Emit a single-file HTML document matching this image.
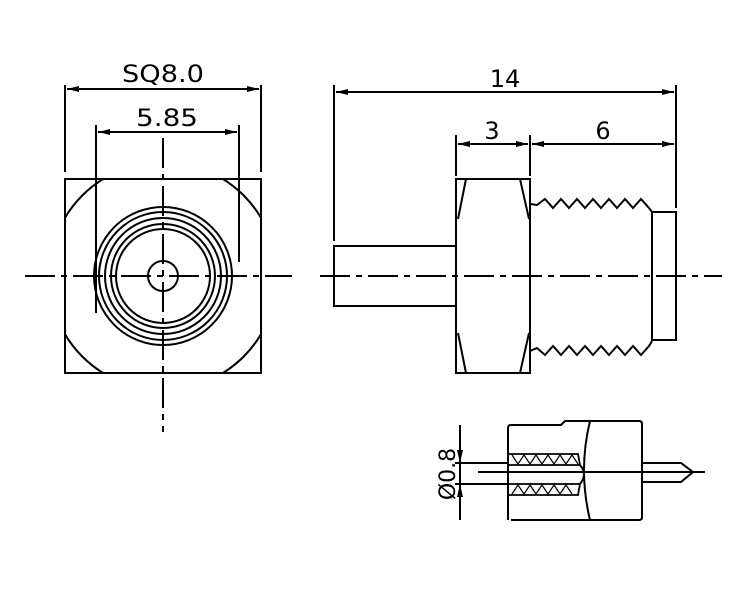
<!DOCTYPE html>
<html><head><style>html,body{margin:0;padding:0;background:#fff}svg{display:block}</style></head><body>
<svg width="746" height="598" viewBox="0 0 746 598" xmlns="http://www.w3.org/2000/svg">
<defs>
<marker id="a" viewBox="0 0 12 6" refX="12" refY="3" markerWidth="12" markerHeight="6" orient="auto-start-reverse" markerUnits="userSpaceOnUse"><path d="M0,0L12,3L0,6z" fill="#000"/></marker>
<clipPath id="sq"><rect x="65" y="179" width="196" height="194"/></clipPath>
</defs>
<g stroke="#000" stroke-width="2" fill="none">
<rect x="65" y="179" width="196" height="194"/>
<circle cx="163" cy="276" r="114" clip-path="url(#sq)"/>
<circle cx="163" cy="276" r="69"/>
<circle cx="163" cy="276" r="64"/>
<circle cx="163" cy="276" r="58"/>
<circle cx="163" cy="276" r="52"/>
<circle cx="163" cy="276" r="47"/>
<circle cx="163" cy="276" r="15"/>
<line x1="96" y1="125" x2="96" y2="313"/>
<line x1="239" y1="125" x2="239" y2="262"/>
<line x1="65" y1="85" x2="65" y2="172"/>
<line x1="261" y1="85" x2="261" y2="172"/>
<line x1="67" y1="89" x2="259" y2="89" marker-start="url(#a)" marker-end="url(#a)"/>
<line x1="98" y1="132" x2="237" y2="132" marker-start="url(#a)" marker-end="url(#a)"/>
<line x1="25" y1="276" x2="292" y2="276" stroke-dasharray="30,6,6,6"/>
<line x1="163" y1="138" x2="163" y2="432" stroke-dasharray="30,6,6,6"/>
<rect x="334" y="246" width="122" height="60"/>
<rect x="456" y="179" width="74" height="194"/>
<path d="M466,179L458,219M458,333L466,373M520,179L529,219M529,333L520,373"/>
<path d="M530,204L537,205 545,199 553,208 561,199 569,208 577,199 585,208 593,199 601,208 609,199 617,208 625,199 633,208 641,199 649,208 652,212"/>
<path d="M530,351L537,348 545,355 553,346 561,355 569,346 577,355 585,346 593,355 601,346 609,355 617,346 625,355 633,346 641,355 649,346 652,341"/>
<rect x="652" y="212" width="24" height="128"/>
<line x1="334" y1="85" x2="334" y2="241"/>
<line x1="676" y1="85" x2="676" y2="208"/>
<line x1="336" y1="92" x2="674" y2="92" marker-start="url(#a)" marker-end="url(#a)"/>
<line x1="456" y1="135" x2="456" y2="176"/>
<line x1="530" y1="135" x2="530" y2="176"/>
<line x1="458" y1="144" x2="528" y2="144" marker-start="url(#a)" marker-end="url(#a)"/>
<line x1="532" y1="144" x2="674" y2="144" marker-start="url(#a)" marker-end="url(#a)"/>
<line x1="320" y1="276" x2="722" y2="276" stroke-dasharray="30,6,6,6"/>
<path d="M508,520L508,428Q508,425 511,425L561,425L565,421L639,421Q642,421 642,424L642,517Q642,520 639,520L511,520"/>
<path d="M590,421Q578,470 590,520"/>
<path d="M642,463L681,463L693,472L681,482L642,482"/>
<line x1="478" y1="472" x2="705" y2="472"/>
<line x1="455" y1="463" x2="508" y2="463"/>
<line x1="455" y1="484" x2="508" y2="484"/>
<line x1="460" y1="425" x2="460" y2="520"/>
<path d="M508,454L578,454L580,465L508,465M508,484L580,484L578,495L508,495" stroke-width="1.8"/>
<path d="M512,455l6,9 6,-9 6,9 6,-9 6,9 6,-9 6,9 6,-9 6,9 6,-9 6,9M512,494l6,-9 6,9 6,-9 6,9 6,-9 6,9 6,-9 6,9 6,-9 6,9" stroke-width="1.2"/>
<path d="M580,465Q588,474 580,484"/>
</g>
<path d="M460,463L457,450L463,450zM460,484L457,497L463,497z" fill="#000"/>
<g font-family="DejaVu Sans, sans-serif" font-size="24" fill="#000" text-anchor="middle">
<text x="163" y="82" textLength="82" lengthAdjust="spacingAndGlyphs">SQ8.0</text>
<text x="167" y="126" textLength="62" lengthAdjust="spacingAndGlyphs">5.85</text>
<text x="505" y="87">14</text>
<text x="492" y="139">3</text>
<text x="603" y="139">6</text>
<text transform="translate(455,474) rotate(-90)" font-size="22">Ø0.8</text>
</g>
</svg>
</body></html>
